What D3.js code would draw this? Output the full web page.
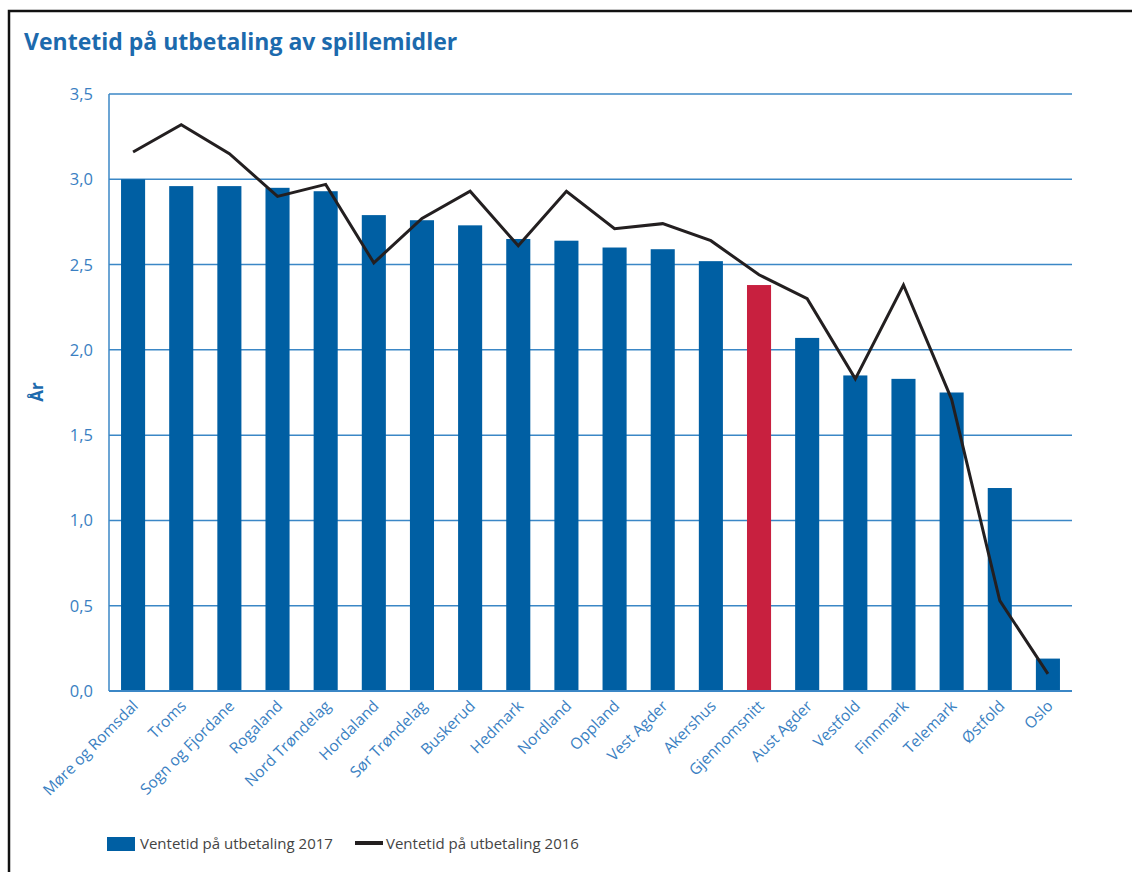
<!DOCTYPE html>
<html>
<head>
<meta charset="utf-8">
<script src="https://cdn.jsdelivr.net/npm/d3@7"></script>
<style>
  body { margin: 0; background: #fff; }
  svg text { font-family: "Open Sans", "Noto Sans", sans-serif; }
</style>
</head>
<body>
<div id="vis"></div>
<script>
// fylker + snitt
const categories = ["Møre og Romsdal", "Troms", "Sogn og Fjordane", "Rogaland", "Nord Trøndelag",
  "Hordaland", "Sør Trøndelag", "Buskerud", "Hedmark", "Nordland", "Oppland", "Vest Agder",
  "Akershus", "Gjennomsnitt", "Aust Agder", "Vestfold", "Finnmark", "Telemark", "Østfold", "Oslo"];
const values2017 = [3.00, 2.96, 2.96, 2.95, 2.93, 2.79, 2.76, 2.73, 2.65, 2.64, 2.60, 2.59,
  2.52, 2.38, 2.07, 1.85, 1.83, 1.75, 1.19, 0.19];
const values2016 = [3.16, 3.32, 3.15, 2.90, 2.97, 2.51, 2.77, 2.93, 2.61, 2.93, 2.71, 2.74,
  2.64, 2.44, 2.30, 1.83, 2.38, 1.71, 0.53, 0.10];
const yTicks = [0, 0.5, 1, 1.5, 2, 2.5, 3, 3.5];
const legendLabels = ["Ventetid på utbetaling 2017", "Ventetid på utbetaling 2016"];
const avgName = "Gjennomsnitt";

const W = 1132, H = 872;
const pLeft = 109, pRight = 1072, pTop = 94, pBottom = 691;
const blue = "#005fa3", red = "#c8203f", grid = "#3b87c6", txt = "#3a7fc2";

let svg = d3.select("#vis").append("svg")
  .attr("width", W)
  .attr("height", H);

// ramme
svg.append("path")
  .attr("d", "M9," + H + "V11H" + W)
  .attr("fill", "none")
  .attr("stroke", "#111")
  .attr("stroke-width", 2.5);

svg.append("text")
  .attr("x", 24).attr("y", 50)
  .attr("fill", "#1c6aad")
  .attr("font-size", 23)
  .attr("font-weight", "bold")
  .text("Ventetid på utbetaling av spillemidler");

let x = d3.scaleBand().domain(categories).range([pLeft, pRight]).paddingInner(0.5).paddingOuter(0.25);
let y = d3.scaleLinear().domain([0, 3.5]).range([pBottom, pTop]);

// grid
svg.append("g").selectAll("line")
  .data(yTicks.filter(d => d > 0))
  .enter().append("line")
  .attr("x1", pLeft).attr("x2", pRight)
  .attr("y1", d => y(d)).attr("y2", d => y(d))
  .attr("stroke", grid).attr("stroke-width", 1.5);

svg.append("g").selectAll("text")
  .data(yTicks)
  .enter().append("text")
  .attr("x", 93).attr("y", d => y(d) + 6)
  .attr("text-anchor", "end")
  .attr("fill", txt)
  .attr("font-size", 16.5)
  .text(d => d3.format(".1f")(d).replace(".", ","));

svg.append("text")
  .attr("transform", "translate(43,392)rotate(-90)")
  .attr("text-anchor", "middle")
  .attr("fill", "#1c6aad")
  .attr("font-size", 17)
  .attr("font-weight", "bold")
  .text("År");

// bars
svg.append("g").selectAll("rect")
  .data(categories)
  .enter().append("rect")
  .attr("x", d => x(d))
  .attr("width", x.bandwidth())
  .attr("y", (d, i) => y(values2017[i]))
  .attr("height", (d, i) => pBottom - y(values2017[i]))
  .attr("fill", d => d == avgName ? red : blue);

// akser
svg.append("line")
  .attr("x1", pLeft).attr("x2", pLeft).attr("y1", pTop).attr("y2", pBottom)
  .attr("stroke", grid).attr("stroke-width", 1.5);
svg.append("line")
  .attr("x1", pLeft).attr("x2", pRight).attr("y1", pBottom).attr("y2", pBottom)
  .attr("stroke", grid).attr("stroke-width", 2);

// 2016 line
let line = d3.line()
  .x((d, i) => x(categories[i]) + x.bandwidth() / 2)
  .y(d => y(d));
svg.append("path")
  .datum(values2016)
  .attr("d", line)
  .attr("fill", "none")
  .attr("stroke", "#231f20")
  .attr("stroke-width", 3)
  .attr("stroke-linejoin", "miter");

// x labels
svg.append("g").selectAll("text")
  .data(categories)
  .enter().append("text")
  .attr("transform", d => "translate(" + (x(d) + x.bandwidth() / 2 + 6) + ",707)rotate(-45)")
  .attr("text-anchor", "end")
  .attr("fill", txt)
  .attr("font-size", 15.5)
  .text(d => d);

// legend
let leg = svg.append("g");
leg.append("rect")
  .attr("x", 107).attr("y", 837).attr("width", 28).attr("height", 14)
  .attr("fill", blue);
leg.append("text")
  .attr("x", 140).attr("y", 849)
  .attr("fill", "#444").attr("font-size", 15)
  .text(legendLabels[0]);
leg.append("line")
  .attr("x1", 355).attr("x2", 383).attr("y1", 843).attr("y2", 843)
  .attr("stroke", "#231f20").attr("stroke-width", 4);
leg.append("text")
  .attr("x", 386).attr("y", 849)
  .attr("fill", "#444").attr("font-size", 15)
  .text(legendLabels[1]);
</script>
</body>
</html>
